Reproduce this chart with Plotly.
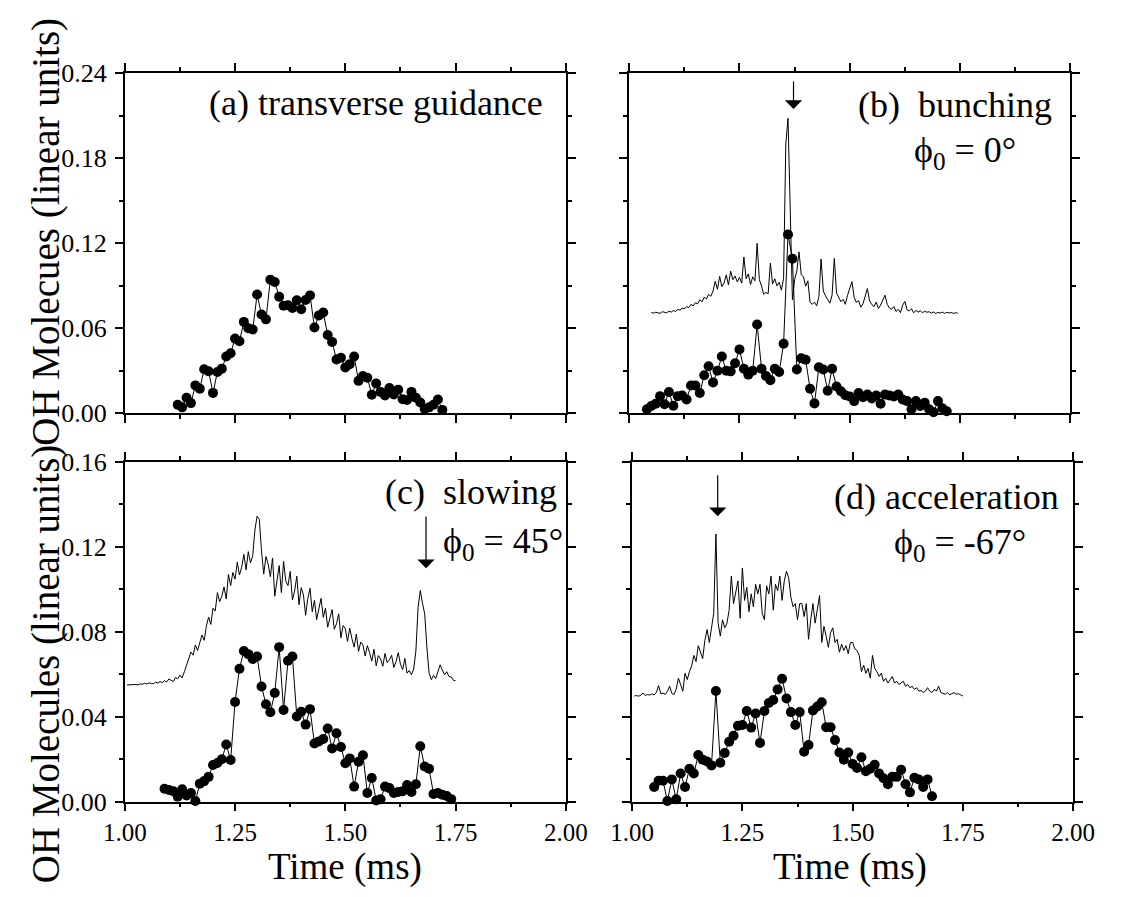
import plotly.graph_objects as go

FONT = "Liberation Serif"

# ---------------- data ----------------
# (a) transverse guidance : markers only
a_t = [1.12,1.13,1.14,1.15,1.16,1.17,1.18,1.19,1.20,1.21,
       1.22,1.23,1.24,1.25,1.26,1.27,1.28,1.29,1.30,1.31,
       1.32,1.33,1.34,1.35,1.36,1.37,1.38,1.39,1.40,1.41,
       1.42,1.43,1.44,1.45,1.46,1.47,1.48,1.49,1.50,1.51,
       1.52,1.53,1.54,1.55,1.56,1.57,1.58,1.59,1.60,1.61,
       1.62,1.63,1.64,1.65,1.66,1.67,1.68,1.69,1.70,1.71,1.72]
a_v = [0.0059,0.0041,0.0109,0.0071,0.0196,0.0173,0.0310,0.0296,0.0143,0.0291,
       0.0314,0.0400,0.0423,0.0526,0.0508,0.0644,0.0600,0.0590,0.0837,0.0696,
       0.0662,0.0942,0.0926,0.0822,0.0758,0.0762,0.0742,0.0797,0.0733,0.0799,
       0.0831,0.0605,0.0690,0.0710,0.0551,0.0503,0.0378,0.0391,0.0323,0.0346,
       0.0400,0.0228,0.0262,0.0250,0.0130,0.0209,0.0150,0.0125,0.0178,0.0132,
       0.0166,0.0098,0.0093,0.0150,0.0109,0.0075,0.0030,0.0041,0.0059,0.0096,0.0023]

# (b) bunching
b_mark_t = [1.04,1.05,1.06,1.07,1.08,1.09,1.10,1.11,1.12,1.13,
            1.14,1.15,1.16,1.17,1.18,1.19,1.20,1.21,1.22,1.23,
            1.24,1.25,1.26,1.27,1.28,1.29,1.30,1.31,1.32,1.33,
            1.34,1.35,1.36,1.37,1.38,1.39,1.40,1.41,1.42,1.43,
            1.44,1.45,1.46,1.47,1.48,1.49,1.50,1.51,1.52,1.53,
            1.54,1.55,1.56,1.57,1.58,1.59,1.60,1.61,1.62,1.63,
            1.64,1.65,1.66,1.67,1.68,1.69,1.70,1.71,1.72]
b_mark_v = [0.0028,0.0051,0.0067,0.0120,0.0063,0.0149,0.0053,0.0120,0.0124,0.0097,
            0.0195,0.0195,0.0142,0.0267,0.0331,0.0217,0.0299,0.0400,0.0299,0.0295,
            0.0352,0.0450,0.0313,0.0272,0.0299,0.0625,0.0313,0.0263,0.0233,0.0313,
            0.0290,0.0490,0.1260,0.1090,0.0308,0.0388,0.0377,0.0172,0.0069,0.0324,
            0.0308,0.0158,0.0313,0.0188,0.0154,0.0126,0.0117,0.0085,0.0142,0.0113,
            0.0131,0.0104,0.0124,0.0067,0.0131,0.0124,0.0117,0.0131,0.0097,0.0085,
            0.0028,0.0085,0.0051,0.0074,0.0028,0.0006,0.0085,0.0035,0.0013]

b_line_t = [1.050,1.055,1.060,1.065,1.070,1.075,1.080,1.085,1.090,1.095,
            1.100,1.105,1.110,1.115,1.120,1.125,1.130,1.135,1.140,1.145,
            1.150,1.155,1.160,1.165,1.170,1.175,1.180,1.185,1.190,1.195,
            1.200,1.205,1.210,1.215,1.220,1.225,1.230,1.235,1.240,1.245,
            1.250,1.255,1.260,1.265,1.270,1.275,1.280,1.285,1.290,1.295,
            1.300,1.305,1.310,1.315,1.320,1.325,1.330,1.335,1.340,1.345,
            1.350,1.355,1.360,1.365,1.370,1.375,1.380,1.385,1.390,1.395,
            1.400,1.405,1.410,1.415,1.420,1.425,1.430,1.435,1.440,1.445,
            1.450,1.455,1.460,1.465,1.470,1.475,1.480,1.485,1.490,1.495,
            1.500,1.505,1.510,1.515,1.520,1.525,1.530,1.535,1.540,1.545,
            1.550,1.555,1.560,1.565,1.570,1.575,1.580,1.585,1.590,1.595,
            1.600,1.605,1.610,1.615,1.620,1.625,1.630,1.635,1.640,1.645,
            1.650,1.655,1.660,1.665,1.670,1.675,1.680,1.685,1.690,1.695,
            1.700,1.705,1.710,1.715,1.720,1.725,1.730,1.735,1.740,1.745]
b_line_v = [0.0710,0.0706,0.0712,0.0709,0.0704,0.0716,0.0711,0.0708,0.0719,0.0713,
            0.0724,0.0718,0.0732,0.0727,0.0741,0.0735,0.0752,0.0744,0.0768,0.0757,
            0.0779,0.0771,0.0800,0.0786,0.0818,0.0806,0.0838,0.0825,0.0862,0.0931,
            0.0874,0.0965,0.0893,0.0918,0.0976,0.0905,0.1002,0.0942,0.0968,0.0926,
            0.0958,0.0917,0.1102,0.0948,0.0983,0.0908,0.0962,0.0934,0.1198,0.0943,
            0.0897,0.0838,0.0852,0.0843,0.1058,0.0912,0.0948,0.0898,0.0923,0.0868,
            0.0952,0.1900,0.2080,0.1500,0.0800,0.0942,0.1003,0.1138,0.0978,0.0962,
            0.0896,0.0934,0.0782,0.0768,0.0784,0.0757,0.0822,0.1088,0.0862,0.0828,
            0.0803,0.0776,0.0834,0.1092,0.0848,0.0812,0.0786,0.0804,0.0768,0.0832,
            0.0886,0.0928,0.0818,0.0782,0.0794,0.0748,0.0772,0.0818,0.0879,0.0792,
            0.0766,0.0752,0.0784,0.0738,0.0763,0.0798,0.0832,0.0768,0.0742,0.0733,
            0.0752,0.0718,0.0733,0.0709,0.0762,0.0788,0.0728,0.0722,0.0736,0.0708,
            0.0726,0.0713,0.0722,0.0709,0.0719,0.0712,0.0716,0.0706,0.0714,0.0703,
            0.0711,0.0706,0.0713,0.0704,0.0711,0.0707,0.0710,0.0704,0.0709,0.0705]

# (c) slowing
c_mark_t = [1.09,1.10,1.11,1.12,1.13,1.14,1.15,1.16,1.17,1.18,
            1.19,1.20,1.21,1.22,1.23,1.24,1.25,1.26,1.27,1.28,
            1.29,1.30,1.31,1.32,1.33,1.34,1.35,1.36,1.37,1.38,
            1.39,1.40,1.41,1.42,1.43,1.44,1.45,1.46,1.47,1.48,
            1.49,1.50,1.51,1.52,1.53,1.54,1.55,1.56,1.57,1.58,
            1.59,1.60,1.61,1.62,1.63,1.64,1.65,1.66,1.67,1.68,
            1.69,1.70,1.71,1.72,1.73,1.74]
c_mark_v = [0.0061,0.0055,0.0049,0.0024,0.0059,0.0029,0.0041,0.0003,0.0085,0.0097,
            0.0117,0.0173,0.0182,0.0200,0.0269,0.0196,0.0470,0.0626,0.0710,0.0695,
            0.0672,0.0684,0.0543,0.0459,0.0421,0.0512,0.0728,0.0432,0.0664,0.0684,
            0.0401,0.0424,0.0363,0.0436,0.0274,0.0284,0.0295,0.0345,0.0251,0.0322,
            0.0258,0.0181,0.0204,0.0071,0.0188,0.0219,0.0041,0.0112,0.0006,0.0011,
            0.0071,0.0064,0.0041,0.0046,0.0049,0.0079,0.0046,0.0082,0.0261,0.0166,
            0.0155,0.0036,0.0041,0.0033,0.0027,0.0012]

line_t = [1.005,1.010,1.015,1.020,1.025,1.030,1.035,1.040,1.045,1.050,
          1.055,1.060,1.065,1.070,1.075,1.080,1.085,1.090,1.095,1.100,
          1.105,1.110,1.115,1.120,1.125,1.130,1.135,1.140,1.145,1.150,
          1.155,1.160,1.165,1.170,1.175,1.180,1.185,1.190,1.195,1.200,
          1.205,1.210,1.215,1.220,1.225,1.230,1.235,1.240,1.245,1.250,
          1.255,1.260,1.265,1.270,1.275,1.280,1.285,1.290,1.295,1.300,
          1.305,1.310,1.315,1.320,1.325,1.330,1.335,1.340,1.345,1.350,
          1.355,1.360,1.365,1.370,1.375,1.380,1.385,1.390,1.395,1.400,
          1.405,1.410,1.415,1.420,1.425,1.430,1.435,1.440,1.445,1.450,
          1.455,1.460,1.465,1.470,1.475,1.480,1.485,1.490,1.495,1.500,
          1.505,1.510,1.515,1.520,1.525,1.530,1.535,1.540,1.545,1.550,
          1.555,1.560,1.565,1.570,1.575,1.580,1.585,1.590,1.595,1.600,
          1.605,1.610,1.615,1.620,1.625,1.630,1.635,1.640,1.645,1.650,
          1.655,1.660,1.665,1.670,1.675,1.680,1.685,1.690,1.695,1.700,
          1.705,1.710,1.715,1.720,1.725,1.730,1.735,1.740,1.745,1.750]

c_line_v = [0.0550,0.0551,0.0549,0.0553,0.0552,0.0550,0.0555,0.0553,0.0558,0.0554,
            0.0560,0.0557,0.0556,0.0563,0.0559,0.0566,0.0561,0.0570,0.0564,0.0578,
            0.0570,0.0566,0.0585,0.0579,0.0596,0.0583,0.0612,0.0640,0.0668,0.0705,
            0.0690,0.0738,0.0712,0.0752,0.0785,0.0760,0.0828,0.0870,0.0835,0.0912,
            0.0898,0.0985,0.0942,0.0968,0.1012,0.0955,0.1070,0.1018,0.1080,0.1048,
            0.1128,0.1068,0.1105,0.1165,0.1092,0.1178,0.1125,0.1158,0.1280,0.1345,
            0.1330,0.1180,0.1072,0.1155,0.1120,0.1060,0.1148,0.0968,0.1050,0.1112,
            0.0985,0.1132,0.1040,0.1018,0.1085,0.0950,0.0992,0.1062,0.0928,0.1008,
            0.0975,0.0878,0.0958,0.1005,0.0895,0.0948,0.0858,0.0902,0.0958,0.0868,
            0.0912,0.0822,0.0870,0.0905,0.0812,0.0838,0.0885,0.0772,0.0830,0.0815,
            0.0755,0.0818,0.0768,0.0728,0.0790,0.0708,0.0752,0.0738,0.0686,0.0735,
            0.0702,0.0662,0.0718,0.0640,0.0688,0.0672,0.0638,0.0698,0.0655,0.0668,
            0.0690,0.0632,0.0660,0.0702,0.0648,0.0622,0.0675,0.0605,0.0618,0.0598,
            0.0625,0.0710,0.0915,0.0995,0.0935,0.0885,0.0725,0.0605,0.0575,0.0595,
            0.0580,0.0610,0.0645,0.0620,0.0598,0.0612,0.0590,0.0588,0.0572,0.0570]

# (d) acceleration
d_mark_t = [1.05,1.06,1.07,1.08,1.09,1.10,1.11,1.12,1.13,1.14,
            1.15,1.16,1.17,1.18,1.19,1.20,1.21,1.22,1.23,1.24,
            1.25,1.26,1.27,1.28,1.29,1.30,1.31,1.32,1.33,1.34,
            1.35,1.36,1.37,1.38,1.39,1.40,1.41,1.42,1.43,1.44,
            1.45,1.46,1.47,1.48,1.49,1.50,1.51,1.52,1.53,1.54,
            1.55,1.56,1.57,1.58,1.59,1.60,1.61,1.62,1.63,1.64,
            1.65,1.66,1.67,1.68]
d_mark_v = [0.0069,0.0099,0.0099,0.0003,0.0105,0.0011,0.0133,0.0069,0.0155,0.0133,
            0.0220,0.0198,0.0189,0.0171,0.0521,0.0183,0.0229,0.0282,0.0311,0.0358,
            0.0361,0.0427,0.0349,0.0415,0.0277,0.0427,0.0465,0.0479,0.0529,0.0579,
            0.0486,0.0422,0.0361,0.0422,0.0235,0.0267,0.0430,0.0448,0.0468,0.0351,
            0.0351,0.0290,0.0232,0.0198,0.0232,0.0178,0.0159,0.0209,0.0143,0.0155,
            0.0174,0.0133,0.0110,0.0082,0.0117,0.0117,0.0151,0.0082,0.0044,0.0113,
            0.0105,0.0069,0.0105,0.0026]

d_line_v = [0.0498,0.0500,0.0497,0.0502,0.0512,0.0500,0.0505,0.0502,0.0508,0.0503,
            0.0515,0.0547,0.0508,0.0512,0.0505,0.0520,0.0544,0.0510,0.0505,0.0530,
            0.0582,0.0545,0.0520,0.0605,0.0575,0.0613,0.0640,0.0689,0.0660,0.0735,
            0.0700,0.0674,0.0760,0.0811,0.0750,0.0826,0.0887,0.1261,0.0841,0.0780,
            0.0857,0.0819,0.0841,0.0902,0.1063,0.0933,0.0979,0.1040,0.0864,0.1101,
            0.0948,0.1009,0.0895,0.0979,0.0918,0.1024,0.0979,0.1024,0.0887,0.0857,
            0.1017,0.0979,0.1063,0.0902,0.1024,0.0994,0.1063,0.0948,0.1040,0.1085,
            0.1055,0.0963,0.0918,0.0933,0.0857,0.0933,0.0933,0.0872,0.0933,0.0765,
            0.0857,0.0933,0.0841,0.0918,0.0971,0.0750,0.0826,0.0780,0.0727,0.0796,
            0.0819,0.0750,0.0765,0.0704,0.0742,0.0712,0.0735,0.0697,0.0750,0.0750,
            0.0720,0.0712,0.0689,0.0613,0.0643,0.0605,0.0628,0.0582,0.0689,0.0628,
            0.0613,0.0590,0.0605,0.0567,0.0582,0.0559,0.0575,0.0590,0.0559,0.0567,
            0.0552,0.0559,0.0567,0.0544,0.0552,0.0537,0.0544,0.0529,0.0537,0.0521,
            0.0524,0.0514,0.0521,0.0537,0.0521,0.0514,0.0529,0.0521,0.0544,0.0514,
            0.0509,0.0506,0.0514,0.0503,0.0509,0.0514,0.0506,0.0509,0.0503,0.0498]

x_ticks = [1.00, 1.25, 1.50, 1.75, 2.00]

# ---------------- figure ----------------
W, H = 1123, 897
fig = go.Figure()

def marker_trace(t, v, xa, ya):
    return go.Scatter(x=t, y=v, xaxis=xa, yaxis=ya, mode="lines+markers",
                      line=dict(color="black", width=1),
                      marker=dict(color="black", size=10, symbol="circle"),
                      cliponaxis=False, showlegend=False, hoverinfo="skip")

def line_trace(t, v, xa, ya):
    return go.Scatter(x=t, y=v, xaxis=xa, yaxis=ya, mode="lines",
                      line=dict(color="black", width=1),
                      cliponaxis=False, showlegend=False, hoverinfo="skip")

fig.add_trace(marker_trace(a_t, a_v, "x", "y"))
fig.add_trace(line_trace(b_line_t, b_line_v, "x2", "y2"))
fig.add_trace(marker_trace(b_mark_t, b_mark_v, "x2", "y2"))
fig.add_trace(line_trace(line_t, c_line_v, "x3", "y3"))
fig.add_trace(marker_trace(c_mark_t, c_mark_v, "x3", "y3"))
fig.add_trace(line_trace(line_t, d_line_v, "x4", "y4"))
fig.add_trace(marker_trace(d_mark_t, d_mark_v, "x4", "y4"))

def px(x):
    return x / W

def py(y):
    return 1 - y / H

tickfont = dict(family=FONT, size=25, color="black")

def xax(dom, anchor, labels):
    return dict(domain=dom, anchor=anchor, range=[1.0, 2.0],
                tickmode="array", tickvals=x_ticks,
                ticktext=["%.2f" % v for v in x_ticks],
                showticklabels=labels, ticks="outside", ticklen=8, tickwidth=1.5,
                tickcolor="black", showline=True, linecolor="black", linewidth=1.5,
                mirror="ticks", showgrid=False, zeroline=False,
                minor=dict(tickmode="linear", tick0=1.0, dtick=0.125, ticks="outside",
                           ticklen=4, tickwidth=1.5, tickcolor="black", showgrid=False),
                tickfont=tickfont, ticklabelstandoff=0)

def yax(dom, anchor, ymax, dt, labels):
    return dict(domain=dom, anchor=anchor, range=[0, ymax],
                tick0=0, dtick=dt, tickformat=".2f",
                showticklabels=labels, ticks="outside", ticklen=8, tickwidth=1.5,
                tickcolor="black", showline=True, linecolor="black", linewidth=1.5,
                mirror="ticks", showgrid=False, zeroline=False,
                minor=dict(tick0=0, dtick=dt / 2, ticks="outside", ticklen=4,
                           tickwidth=1.5, tickcolor="black", showgrid=False),
                tickfont=dict(family=FONT, size=26, color="black"), ticklabelstandoff=3)

dom_ac = [px(107), px(566)]
dom_b = [px(632), px(1091)]
dom_d = [px(635), px(1094)]
dom_top = [py(412.5), py(61)]
dom_bot = [py(814), py(463)]

fig.update_layout(
    width=W, height=H, margin=dict(l=0, r=0, t=0, b=0),
    paper_bgcolor="white", plot_bgcolor="white",
    font=dict(family=FONT, color="black"),
    xaxis=xax(dom_ac, "y", False),
    yaxis=yax(dom_top, "x", 0.24, 0.06, True),
    xaxis2=xax(dom_b, "y2", False),
    yaxis2=yax(dom_top, "x2", 0.24, 0.06, False),
    xaxis3=xax(dom_ac, "y3", True),
    yaxis3=yax(dom_bot, "x3", 0.16, 0.04, True),
    xaxis4=xax(dom_d, "y4", True),
    yaxis4=yax(dom_bot, "x4", 0.16, 0.04, False),
)

ann = []
def txt(x, y, s, size, xanchor="center", yanchor="middle", angle=0):
    ann.append(dict(xref="paper", yref="paper", x=px(x), y=py(y), text=s,
                    showarrow=False, xanchor=xanchor, yanchor=yanchor,
                    textangle=angle, borderpad=0,
                    font=dict(family=FONT, size=size, color="black")))

lab = 36
txt(543, 92, "(a) transverse guidance", lab, xanchor="right")
txt(1073, 94, "(b)\u00a0 bunching", lab, xanchor="right")
txt(927, 143, "\u03d5<sub>0</sub> = 0\u00b0", lab, xanchor="left")
txt(558, 494, "(c)\u00a0 slowing", lab, xanchor="right")
txt(437, 547, "\u03d5<sub>0</sub> = 45\u00b0", lab, xanchor="left")
txt(1080, 499, "(d) acceleration", lab, xanchor="right")
txt(906, 548, "\u03d5<sub>0</sub> = -67\u00b0", lab, xanchor="left")

txt(336, 881, "Time (ms)", 37)
txt(862, 881, "Time (ms)", 37)
txt(25, 225, "OH Molecues (linear units)", 39, angle=-90)
txt(25, 672, "OH Molecules (linear units)", 39, angle=-90)

def arrow(xr, yr, x, y_tail, y_tip):
    ann.append(dict(xref=xr, yref=yr, axref=xr, ayref=yr, x=x, y=y_tip, ax=x, ay=y_tail,
                    text="", showarrow=True, arrowhead=1, arrowsize=2.4,
                    arrowwidth=1.2, arrowcolor="black", standoff=0, startstandoff=0))

arrow("x2", "y2", 1.3725, 0.235, 0.2147)
arrow("x3", "y3", 1.683, 0.135, 0.110)
arrow("x4", "y4", 1.194, 0.1545, 0.1345)

fig.update_layout(annotations=ann)
fig.write_html("out.html")
